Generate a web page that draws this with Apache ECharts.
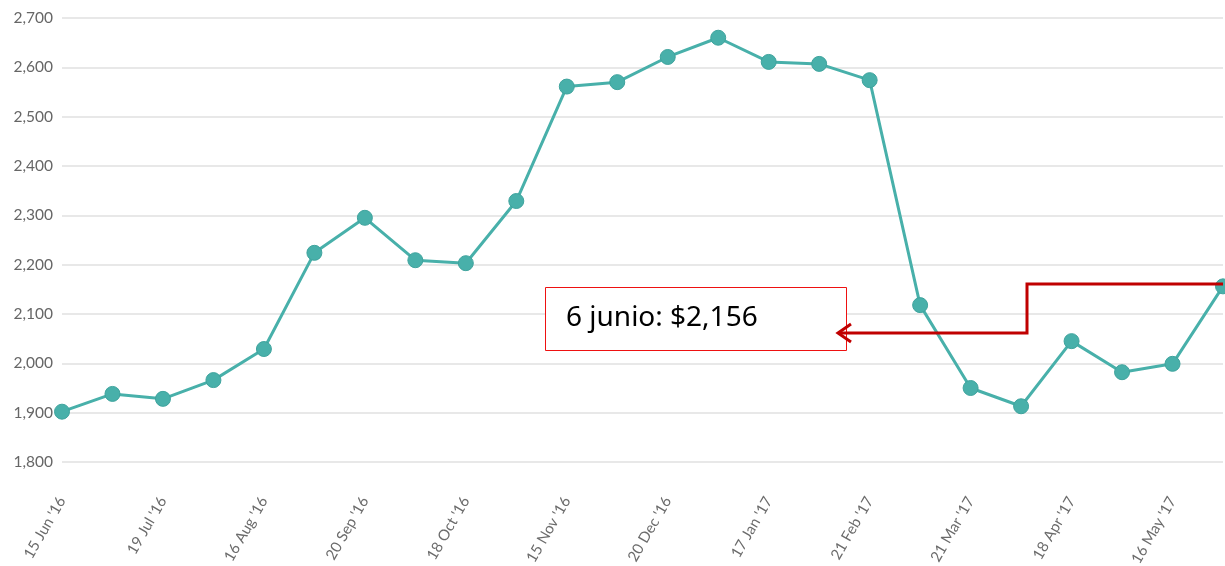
<!DOCTYPE html>
<html>
<head>
<meta charset="utf-8">
<script src="https://cdn.jsdelivr.net/npm/echarts@6/dist/echarts.min.js"></script>
<style>
  html, body { margin: 0; padding: 0; background: #fff; }
  #main { width: 1225px; height: 566px; }
</style>
</head>
<body>
<div id="main"></div>
<script>
// fechas (solo una de cada dos se muestra en el eje)
const dates = [
  "15 Jun '16", "29 Jun '16", "19 Jul '16", "2 Aug '16", "16 Aug '16", "30 Aug '16",
  "20 Sep '16", "4 Oct '16", "18 Oct '16", "1 Nov '16", "15 Nov '16", "29 Nov '16",
  "20 Dec '16", "3 Jan '17", "17 Jan '17", "31 Jan '17", "21 Feb '17", "7 Mar '17",
  "21 Mar '17", "4 Apr '17", "18 Apr '17", "2 May '17", "16 May '17", "6 Jun '17"
];
const prices = [
  1902, 1938, 1928, 1966, 2029, 2224,
  2295, 2209, 2203, 2329, 2561, 2570,
  2621, 2660, 2611, 2607, 2574, 2118,
  1950, 1913, 2045, 1982, 1999, 2156
];
const yTicks = [1800, 1900, 2000, 2100, 2200, 2300, 2400, 2500, 2600, 2700];
const noteText = '6 junio: $2,156';

const chart = echarts.init(document.getElementById('main'));
const teal = '#48b0aa';

const option = {
  animation: false,
  grid: { left: 62, right: 2, top: 18, bottom: 104, outerBoundsMode: 'none', containLabel: false },
  xAxis: {
    type: 'category',
    data: dates,
    boundaryGap: false,
    axisLine: { show: false },
    axisTick: { show: false },
    axisLabel: {
      interval: 1,
      rotate: 60,
      margin: 36,
      color: '#6b6b6b',
      fontFamily: 'Lato',
      fontSize: 15
    }
  },
  yAxis: {
    type: 'value',
    min: yTicks[0],
    max: yTicks[yTicks.length - 1],
    interval: 100,
    axisLine: { show: false },
    axisTick: { show: false },
    splitLine: { lineStyle: { color: '#e8e8e8', width: 2 } },
    axisLabel: {
      margin: 9,
      color: '#666',
      fontFamily: 'Lato',
      fontSize: 15.5,
      formatter: v => v.toLocaleString('en-US')
    }
  },
  series: [{
    type: 'line',
    data: prices,
    symbol: 'circle',
    symbolSize: 15,
    lineStyle: { color: teal, width: 3 },
    itemStyle: { color: teal, borderColor: '#3fa39d', borderWidth: 1 }
  }]
};
chart.setOption(option);

// anotación: caja + flecha desde el último punto
const last = chart.convertToPixel({ seriesIndex: 0 }, [dates.length - 1, prices[prices.length - 1]]);
const red = '#c00000';
chart.setOption({
  graphic: [
    {
      type: 'rect',
      shape: { x: 545.5, y: 287.5, width: 301, height: 63 },
      style: { fill: '#fff', stroke: '#ee1111', lineWidth: 1 },
      z: 100
    },
    {
      type: 'text',
      x: 566, y: 318,
      style: {
        text: noteText,
        fill: '#000',
        font: '28px "Noto Sans", sans-serif',
        verticalAlign: 'middle'
      },
      z: 101
    },
    {
      type: 'polyline',
      shape: { points: [[last[0], 284], [1027, 284], [1027, 333], [840, 333]] },
      style: { stroke: red, lineWidth: 3, fill: null },
      z: 100
    },
    {
      type: 'polyline',
      shape: { points: [[851, 324], [838, 333], [851, 342]] },
      style: { stroke: red, lineWidth: 3, fill: null },
      z: 100
    }
  ]
});
</script>
</body>
</html>
